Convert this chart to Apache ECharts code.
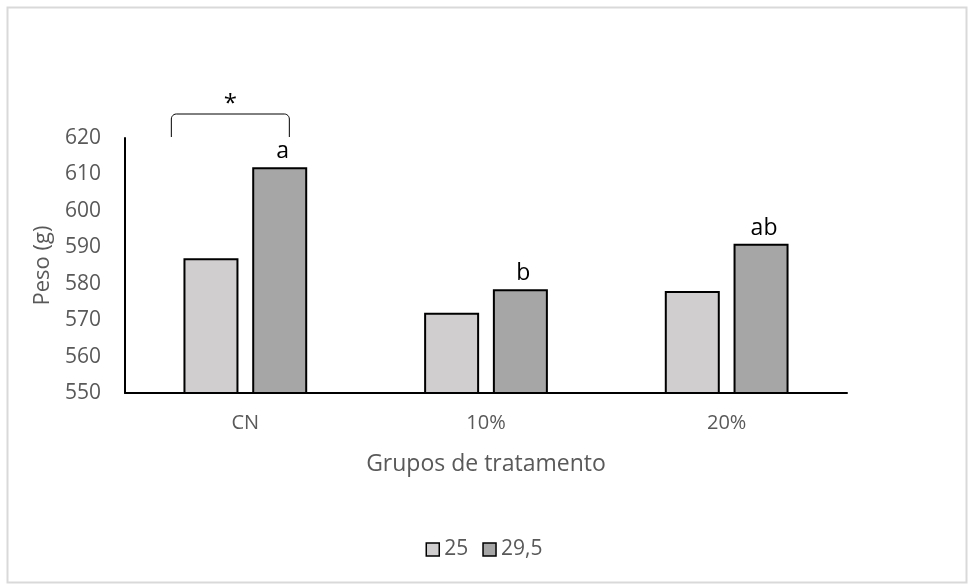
<!DOCTYPE html>
<html>
<head>
<meta charset="utf-8">
<script src="https://cdn.jsdelivr.net/npm/echarts@6/dist/echarts.min.js"></script>
<style>
  html, body { margin: 0; padding: 0; background: #fff; }
  #chart { width: 968px; height: 586px; }
</style>
</head>
<body>
<div id="chart"></div>
<script>
// Peso por grupo de tratamento, duas temperaturas
const categories = ['CN', '10%', '20%'];
const seriesNames = ['25', '29,5'];
const values25 = [587, 572, 578];
const values295 = [612, 578.5, 591];
const letters295 = ['a', 'b', 'ab'];
const yTicks = { min: 550, max: 620, interval: 10 };

const FONT = '"Open Sans", sans-serif';
const GREY_TEXT = '#595959';

const chart = echarts.init(document.getElementById('chart'), null, { renderer: 'canvas' });

const option = {
  animation: false,
  backgroundColor: '#ffffff',
  textStyle: { fontFamily: FONT },
  grid: { left: 125, right: 121, top: 138, bottom: 193, containLabel: false },
  legend: {
    data: seriesNames,
    top: 534,
    left: 'center',
    icon: 'rect',
    itemWidth: 13,
    itemHeight: 13,
    itemGap: 14,
    textStyle: { color: GREY_TEXT, fontSize: 21, fontFamily: FONT },
    itemStyle: { borderColor: '#000', borderWidth: 1.5 }
  },
  xAxis: {
    type: 'category',
    data: categories,
    name: 'Grupos de tratamento',
    nameLocation: 'middle',
    nameGap: 60,
    nameTextStyle: { color: GREY_TEXT, fontSize: 23, fontFamily: FONT },
    axisLine: { lineStyle: { color: '#000', width: 2 } },
    axisTick: { show: false },
    axisLabel: { color: GREY_TEXT, fontSize: 20, margin: 20, fontFamily: FONT },
    splitLine: { show: false }
  },
  yAxis: {
    type: 'value',
    min: yTicks.min,
    max: yTicks.max,
    interval: yTicks.interval,
    name: 'Peso (g)',
    nameLocation: 'middle',
    nameGap: 68,
    nameTextStyle: { color: GREY_TEXT, fontSize: 22, fontFamily: FONT },
    axisLine: { show: true, lineStyle: { color: '#000', width: 2 } },
    axisTick: { show: false },
    axisLabel: { color: GREY_TEXT, fontSize: 21, margin: 24, fontFamily: FONT },
    splitLine: { show: false }
  },
  series: [
    {
      name: seriesNames[0],
      type: 'bar',
      data: values25,
      barWidth: 55,
      barGap: '25%',
      itemStyle: { color: '#d0cece', borderColor: '#000', borderWidth: 2 }
    },
    {
      name: seriesNames[1],
      type: 'bar',
      data: values295,
      barWidth: 55,
      barGap: '25%',
      itemStyle: { color: '#a6a6a6', borderColor: '#000', borderWidth: 2 },
      label: {
        show: true,
        position: 'top',
        distance: 4,
        offset: [3, 0],
        color: '#000',
        fontSize: 23,
        fontFamily: FONT,
        formatter: (p) => letters295[p.dataIndex]
      }
    }
  ]
};

chart.setOption(option);

// Chave de significância sobre o grupo CN e moldura externa
function drawAnnotations() {
  const center = chart.convertToPixel({ gridIndex: 0 }, [0, yTicks.max]);
  const cx = center[0];
  const topY = center[1];
  const x1 = cx - 74;
  const x2 = cx + 44;
  const yLine = topY - 24;
  const yLeg = topY - 1;
  const r = 5;
  // cantos arredondados aproximados por pequenos segmentos
  const pts = [];
  pts.push([x1, yLeg]);
  pts.push([x1, yLine + r]);
  for (let i = 1; i <= 6; i++) {
    const a = Math.PI - (i / 6) * (Math.PI / 2);
    pts.push([x1 + r + r * Math.cos(a), yLine + r - r * Math.sin(a)]);
  }
  pts.push([x2 - r, yLine]);
  for (let i = 1; i <= 6; i++) {
    const a = Math.PI / 2 - (i / 6) * (Math.PI / 2);
    pts.push([x2 - r + r * Math.cos(a), yLine + r - r * Math.sin(a)]);
  }
  pts.push([x2, yLeg]);

  chart.setOption({
    graphic: [
      {
        type: 'rect',
        shape: { x: 7.5, y: 7.5, width: 959, height: 575 },
        style: { fill: 'none', stroke: '#d9d9d9', lineWidth: 2 },
        silent: true
      },
      {
        type: 'polyline',
        shape: { points: pts },
        style: { fill: 'none', stroke: '#000', lineWidth: 1 },
        silent: true
      },
      {
        type: 'text',
        x: (x1 + x2) / 2,
        y: yLine - 10,
        style: {
          text: '*',
          fill: '#000',
          font: '24px ' + FONT,
          align: 'center',
          verticalAlign: 'middle'
        },
        silent: true
      }
    ]
  });
}
drawAnnotations();
</script>
</body>
</html>
